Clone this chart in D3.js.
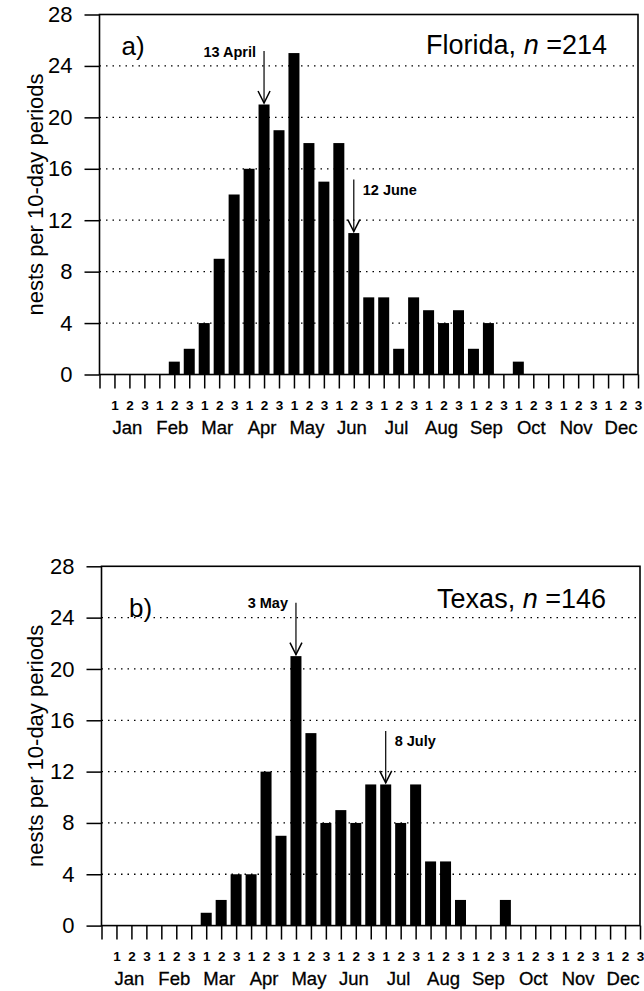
<!DOCTYPE html>
<html lang="en">
<head>
    <meta charset="UTF-8">
    <title>Nests per 10-day periods</title>
    <script src="https://d3js.org/d3.v7.min.js"></script>
    <style>
        body { margin: 0; background: #fff; }
        text { font-family: "Liberation Sans", Arial, sans-serif; fill: #000; }
    </style>
</head>
<body>
    <script>
        var months = ["Jan", "Feb", "Mar", "Apr", "May", "Jun", "Jul", "Aug", "Sep", "Oct", "Nov", "Dec"];
        var periods = ["1", "2", "3"];
        var yTicks = [0, 4, 8, 12, 16, 20, 24, 28];

        // nests per 10-day period, Jan 1 .. Dec 3
        var floridaNests = [0, 0, 0, 0, 1, 2, 4, 9, 14, 16, 21, 19, 25, 18, 15, 18, 11, 6,
                            6, 2, 6, 5, 4, 5, 2, 4, 0, 1, 0, 0, 0, 0, 0, 0, 0, 0];
        var texasNests = [0, 0, 0, 0, 0, 0, 1, 2, 4, 4, 12, 7, 21, 15, 8, 9, 8, 11,
                          11, 8, 11, 5, 5, 2, 0, 0, 2, 0, 0, 0, 0, 0, 0, 0, 0, 0];

        var floridaMarks = ["13 April", "12 June"];
        var floridaMarkBins = [10, 16];
        var texasMarks = ["3 May", "8 July"];
        var texasMarkBins = [12, 18];

        var w = 644;
        var h = 991;

        var svg = d3.select("body")
            .append("svg")
            .attr("width", w)
            .attr("height", h);

        svg.append("rect").attr("width", w).attr("height", h).attr("fill", "#fff");

        function drawPanel(opt) {
            var data = opt.values;
            var x = d3.scaleLinear()
                .domain([0, data.length])
                .range([opt.left, opt.right]);
            var y = d3.scaleLinear()
                .domain([0, 28])
                .range([opt.bottom, opt.top]);

            var g = svg.append("g");

            // dotted grid
            g.selectAll("line.grid")
                .data(yTicks.filter(d => d > 0 && d < 28))
                .enter().append("line")
                .attr("class", "grid")
                .attr("x1", opt.left)
                .attr("x2", opt.right)
                .attr("y1", d => y(d))
                .attr("y2", d => y(d))
                .attr("stroke", "#000")
                .attr("stroke-width", 1.3)
                .attr("stroke-dasharray", "1.5,5");

            // bars sit on tick i+1
            g.selectAll("rect.bar")
                .data(data.map((v, i) => ({ v: v, i: i })).filter(d => d.v > 0))
                .enter().append("rect")
                .attr("class", "bar")
                .attr("x", d => x(d.i + 1) - 5.5)
                .attr("y", d => y(d.v))
                .attr("width", 11)
                .attr("height", d => y(0) - y(d.v))
                .attr("fill", "#000");

            // y axis
            var yAxis = d3.axisLeft(y)
                .tickValues(yTicks)
                .tickSize(15)
                .tickPadding(12);
            var ya = g.append("g")
                .attr("transform", "translate(" + opt.left + ",0)")
                .call(yAxis);
            ya.select(".domain").remove();
            ya.selectAll("line").attr("stroke-width", 1.5);
            ya.selectAll("text")
                .attr("font-size", "22px")
                .attr("font-family", "Liberation Sans, Arial, sans-serif");

            // x axis
            var xAxis = d3.axisBottom(x)
                .tickValues(d3.range(data.length + 1))
                .tickSize(14)
                .tickPadding(12)
                .tickFormat(k => k === 0 ? "" : periods[(k - 1) % 3]);
            var xa = g.append("g")
                .attr("transform", "translate(0," + opt.bottom + ")")
                .call(xAxis);
            xa.select(".domain").remove();
            xa.selectAll("line").attr("stroke-width", 1.5);
            xa.selectAll("text")
                .attr("font-size", "13.5px")
                .attr("font-weight", "bold")
                .attr("font-family", "Liberation Sans, Arial, sans-serif");

            g.selectAll("text.month")
                .data(months)
                .enter().append("text")
                .attr("class", "month")
                .attr("x", (d, m) => x(m * 3 + 2) - 2)
                .attr("y", opt.bottom + 59.5)
                .attr("text-anchor", "middle")
                .attr("font-size", "18.5px")
                .attr("stroke", "#000")
                .attr("stroke-width", 0.3)
                .text(d => d);

            // frame
            g.append("rect")
                .attr("x", opt.left)
                .attr("y", opt.top)
                .attr("width", opt.right - opt.left)
                .attr("height", opt.bottom - opt.top)
                .attr("fill", "none")
                .attr("stroke", "#000")
                .attr("stroke-width", 1.6);

            // y title
            g.append("text")
                .attr("transform", "translate(43," + (opt.top + opt.bottom) / 2 + ") rotate(-90)")
                .attr("text-anchor", "middle")
                .attr("font-size", "22px")
                .text("nests per 10-day periods");

            g.append("text")
                .attr("x", opt.letterX)
                .attr("y", opt.letterY)
                .attr("font-size", "26px")
                .text(opt.letter);

            var title = g.append("text")
                .attr("x", opt.titleX)
                .attr("y", opt.titleY)
                .attr("text-anchor", "end")
                .attr("font-size", "27px");
            title.append("tspan").text(opt.region + ", ");
            title.append("tspan").attr("font-style", "italic").text("n");
            title.append("tspan").text(" =" + d3.sum(data));

            // date arrows: first one labelled on the left, second on the right
            opt.marks.forEach(function(label, j) {
                var bin = opt.markBins[j];
                var ax = x(bin + 1);
                var tip = y(data[bin]) - 1.5;
                var top = tip - 52;
                g.append("line")
                    .attr("x1", ax).attr("x2", ax)
                    .attr("y1", top).attr("y2", tip)
                    .attr("stroke", "#000")
                    .attr("stroke-width", 1.2);
                g.append("path")
                    .attr("d", "M" + (ax - 6) + "," + (tip - 12) + "L" + ax + "," + tip + "L" + (ax + 6) + "," + (tip - 12))
                    .attr("fill", "none")
                    .attr("stroke", "#000")
                    .attr("stroke-width", 1.5);
                var left = j === 0;
                g.append("text")
                    .attr("x", left ? ax - 8 : ax + 9)
                    .attr("y", left ? top + 5.5 : top + 15.5)
                    .attr("text-anchor", left ? "end" : "start")
                    .attr("font-size", "14.5px")
                    .attr("font-weight", "bold")
                    .text(label);
            });
        }

        drawPanel({
            values: floridaNests, marks: floridaMarks, markBins: floridaMarkBins,
            region: "Florida", letter: "a)",
            left: 99.5, right: 638, top: 14.5, bottom: 374.5,
            letterX: 121.5, letterY: 55, titleX: 607, titleY: 54
        });

        drawPanel({
            values: texasNests, marks: texasMarks, markBins: texasMarkBins,
            region: "Texas", letter: "b)",
            left: 101.5, right: 640, top: 566.3, bottom: 925.6,
            letterX: 129, letterY: 617, titleX: 606, titleY: 608
        });
    </script>
</body>
</html>
